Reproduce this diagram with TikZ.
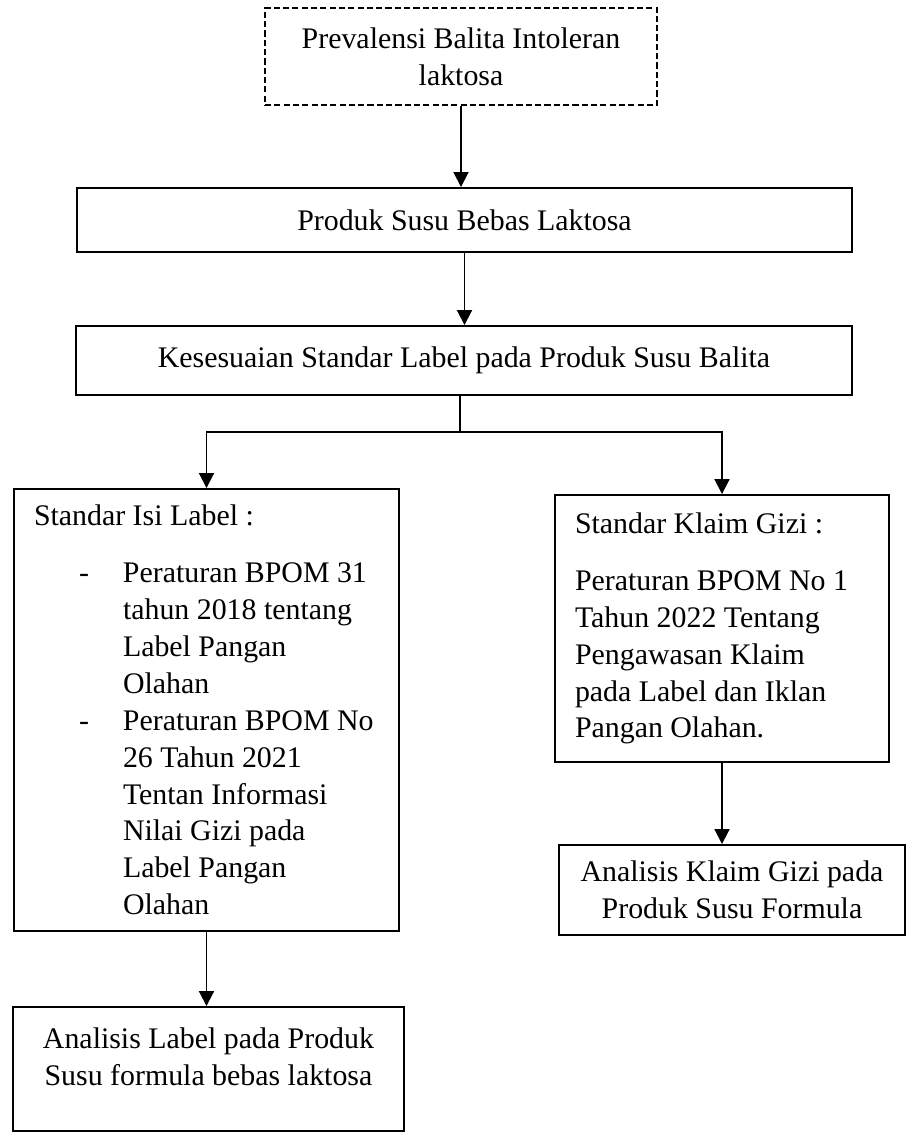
\documentclass[tikz,border=0pt]{standalone}
\usepackage{fontspec}
\setmainfont{Liberation Serif}
\usepackage{tikz}
\usetikzlibrary{arrows.meta}
\tikzstyle{box} = [rectangle, draw=black, line width=1.1pt, align=center, inner sep=0pt, font=\fontsize{17}{21}\selectfont]
\tikzstyle{dashbox} = [box, dash pattern=on 3.5pt off 1.8pt]
\tikzstyle{listbox} = [box, align=flush left, inner xsep=0.4cm]
\tikzstyle{arr} = [line width=1.1pt, -{Triangle[length=8.5pt,width=8.5pt]}]
\newcommand{\dashitem}{\hspace*{0.9cm}\makebox[0.88cm][l]{-}}
\newcommand{\dashcont}{\hspace*{1.78cm}}

\begin{document}
\begin{tikzpicture}

\useasboundingbox (0,0) rectangle (18.16,-22.7);

\node (prev) [dashbox, minimum width=7.84cm, minimum height=1.94cm] at (9.22,-1.13) {Prevalensi Balita Intoleran\\ laktosa};
\node (produk) [box, minimum width=15.5cm, minimum height=1.28cm] at (9.29,-4.40) {Produk Susu Bebas Laktosa};
\node (sesuai) [box, minimum width=15.52cm, minimum height=1.38cm] at (9.28,-7.21) {Kesesuaian Standar Label pada Produk Susu Balita};
\coordinate (split) at (9.2,-8.64);

\node (isi) [listbox, text width=6.9cm, minimum height=8.84cm] at (4.13,-14.2) {Standar Isi Label :\\[0.4cm]
\dashitem Peraturan BPOM 31\\
\dashcont tahun 2018 tentang\\
\dashcont Label Pangan\\
\dashcont Olahan\\
\dashitem Peraturan BPOM No\\
\dashcont 26 Tahun 2021\\
\dashcont Tentan Informasi\\
\dashcont Nilai Gizi pada\\
\dashcont Label Pangan\\
\dashcont Olahan};

\node (klaim) [listbox, text width=5.88cm, minimum height=5.34cm] at (14.44,-12.57) {Standar Klaim Gizi :\\[0.4cm]
Peraturan BPOM No 1\\ Tahun 2022 Tentang\\ Pengawasan Klaim\\ pada Label dan Iklan\\ Pangan Olahan.};

\node (anlabel) [box, minimum width=7.82cm, minimum height=2.48cm] at (4.17,-21.38) {Analisis Label pada Produk\\ Susu formula bebas laktosa\\[-0.25cm]};
\node (anklaim) [box, minimum width=6.92cm, minimum height=1.8cm] at (14.64,-17.8) {Analisis Klaim Gizi pada\\ Produk Susu Formula};

\draw[arr] (prev.south) -- (prev.south |- produk.north);
\draw[arr] (produk.south) -- (produk.south |- sesuai.north);
\draw[line width=1.1pt] (split |- sesuai.south) -- (split);
\draw[arr] (split) -| (isi.north);
\draw[arr] (split) -| (klaim.north);
\draw[arr] (isi.south) -- (isi.south |- anlabel.north);
\draw[arr] (klaim.south) -- (klaim.south |- anklaim.north);

\end{tikzpicture}
\end{document}
